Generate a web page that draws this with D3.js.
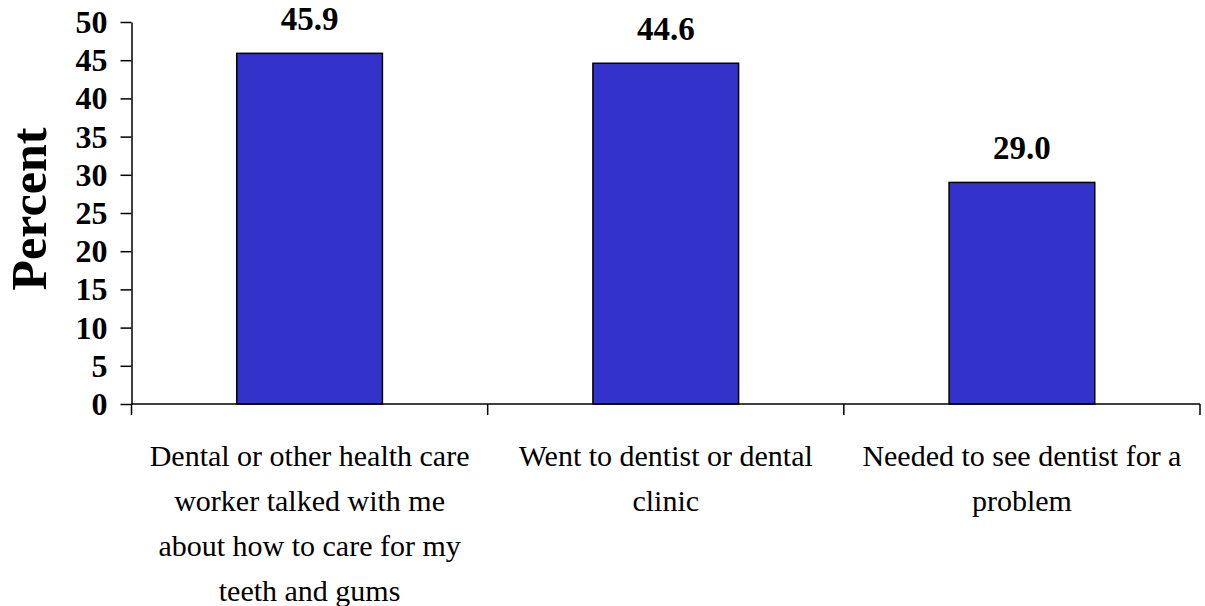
<!DOCTYPE html>
<html>
<head>
<meta charset="utf-8">
<script src="https://cdn.jsdelivr.net/npm/d3@7"></script>
<style>
  text { font-family: "Liberation Serif", Tinos, "Times New Roman" !important; }
</style>
</head>
<body style="margin:0">
<svg id="c" width="1205" height="606"></svg>
<script>
const categories = [
  "Dental or other health care worker talked with me about how to care for my teeth and gums",
  "Went to dentist or dental clinic",
  "Needed to see dentist for a problem"
];
const categoryLines = [
  ["Dental or other health care", "worker talked with me", "about how to care for my", "teeth and gums"],
  ["Went to dentist or dental", "clinic"],
  ["Needed to see dentist for a", "problem"]
];
const values = [45.9, 44.6, 29.0];
const yTicks = [0, 5, 10, 15, 20, 25, 30, 35, 40, 45, 50];
const yTitle = "Percent";

const svgSel = d3.select("#c");
const fam = "Liberation Serif";
const plotLeft = 131.5, plotRight = 1200, plotTop = 22, plotBottom = 404;

const xs = d3.scaleBand().domain(categories).range([plotLeft, plotRight])
  .paddingInner(0.591).paddingOuter(0.2955);
const ys = d3.scaleLinear().domain([0, 50]).range([plotBottom, plotTop]);

svgSel.append("g").selectAll("rect").data(values).join("rect")
  .attr("x", (d, i) => xs(categories[i]))
  .attr("y", d => ys(d))
  .attr("width", xs.bandwidth())
  .attr("height", d => ys(0) - ys(d))
  .attr("fill", "#3333CC")
  .attr("stroke", "#000")
  .attr("stroke-width", 1.5);

const yAxis = svgSel.append("g").attr("transform", `translate(${plotLeft},0)`)
  .call(d3.axisLeft(ys).tickValues(yTicks).tickSize(11).tickSizeOuter(0).tickPadding(13));
yAxis.attr("font-family", fam).attr("font-size", 32).attr("font-weight", "bold");
yAxis.select(".domain").attr("stroke", "#000").attr("stroke-width", 1.5);
yAxis.selectAll(".tick line").attr("stroke", "#000").attr("stroke-width", 1.5);
yAxis.selectAll(".tick text")
  .attr("font-family", fam).attr("font-weight", "bold").attr("font-size", 32)
  .attr("fill", "#000").attr("dy", "0.33em");

svgSel.append("line")
  .attr("x1", plotLeft).attr("x2", plotRight).attr("y1", ys(0)).attr("y2", ys(0))
  .attr("stroke", "#000").attr("stroke-width", 1.5);
const boundaries = categories.map(c => xs(c) - xs.step() * xs.paddingInner() / 2);
boundaries.push(plotRight);
svgSel.append("g").selectAll("line").data(boundaries).join("line")
  .attr("x1", d => d).attr("x2", d => d)
  .attr("y1", ys(0)).attr("y2", ys(0) + 11)
  .attr("stroke", "#000").attr("stroke-width", 1.5);

categoryLines.forEach((lines, i) => {
  const cx = xs(categories[i]) + xs.bandwidth() / 2;
  svgSel.append("g").selectAll("text").data(lines).join("text")
    .attr("x", cx).attr("y", (d, j) => 466 + j * 45)
    .attr("font-family", fam).attr("font-size", 30).attr("fill", "#000")
    .attr("text-anchor", "middle")
    .text(d => d);
});

svgSel.append("g").selectAll("text").data(values).join("text")
  .attr("x", (d, i) => xs(categories[i]) + xs.bandwidth() / 2)
  .attr("y", d => ys(d) - 23)
  .attr("text-anchor", "middle")
  .attr("font-family", fam).attr("font-weight", "bold").attr("font-size", 33)
  .attr("fill", "#000")
  .text(d => d.toFixed(1));

svgSel.append("text")
  .attr("transform", "translate(46,209) rotate(-90)")
  .attr("text-anchor", "middle")
  .attr("font-family", fam).attr("font-weight", "bold").attr("font-size", 50)
  .attr("fill", "#000")
  .text(yTitle);
</script>
</body>
</html>
